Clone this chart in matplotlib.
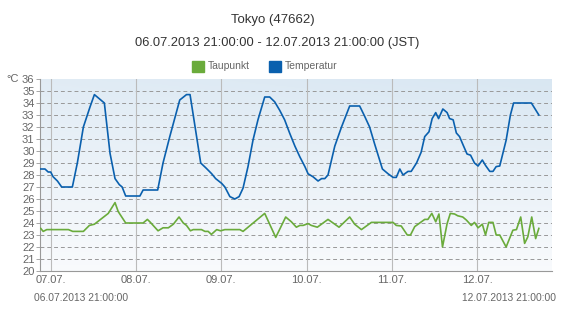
import matplotlib.pyplot as plt
import numpy as np

plt.rcParams['font.family'] = ['Liberation Sans', 'DejaVu Sans']

# hours after 06.07.2013 21:00 JST
temp_h = [0, 1.4, 2.3, 3.0, 3.7, 4.9, 6.1, 9.1, 10.5, 12.2, 14.1, 15.3, 18.1, 19.7, 21.1,
          22.3, 23.1, 24.1, 28.1, 29.0, 33.1, 34.6, 36.5, 39.3, 41.2, 42.2, 45.2, 46.8,
          48.3, 49.4, 51.1, 52.0, 53.4, 54.8, 56.0, 57.1, 58.5, 59.9, 61.3, 63.2, 64.6,
          66.0, 67.4, 68.8, 70.2, 71.7, 73.1, 74.5, 75.4, 76.8, 78.2, 79.2, 80.1, 81.0,
          82.9, 84.8, 87.1, 89.9, 91.3, 92.7, 94.1, 96.3, 97.9, 99.3, 100.2, 101.2, 102.1,
          103.5, 104.4, 105.9, 107.2, 108.2, 109.4, 110.3, 111.3, 112.1, 113.3, 114.5,
          115.2, 116.2, 117.1, 118.0, 119.0, 120.1, 121.1, 122.2, 123.2, 124.4, 125.3,
          126.5, 127.4, 128.3, 129.3, 131.1, 132.3, 133.2, 138.2, 140.3]
temp = [28.5, 28.5, 28.25, 28.25, 27.85, 27.5, 27.0, 27.0, 29.0, 32.0, 33.7, 34.7, 34.0,
        29.8, 27.7, 27.2, 27.0, 26.25, 26.25, 26.75, 26.75, 29.0, 31.2, 34.25, 34.7, 34.7,
        29.0, 28.55, 28.1, 27.7, 27.3, 27.0, 26.2, 26.0, 26.2, 26.9, 28.7, 30.9, 32.6,
        34.5, 34.5, 34.1, 33.4, 32.6, 31.5, 30.4, 29.5, 28.7, 28.1, 27.85, 27.5, 27.7,
        27.7, 28.0, 30.4, 32.0, 33.75, 33.75, 32.9, 32.0, 30.6, 28.5, 28.1, 27.8, 27.8,
        28.5, 28.0, 28.3, 28.3, 29.0, 29.9, 31.2, 31.6, 32.7, 33.2, 32.7, 33.5, 33.2,
        32.7, 32.6, 31.5, 31.2, 30.5, 29.75, 29.65, 29.0, 28.75, 29.25, 28.8, 28.3, 28.3,
        28.7, 28.75, 30.9, 33.0, 34.0, 34.0, 33.0]

dew_h = [0.2, 0.9, 1.9, 8.0, 9.2, 12.2, 13.9, 15.3, 19.2, 21.1, 22.0, 24.1, 29.0, 30.2,
         30.9, 33.2, 34.6, 36.1, 37.5, 39.1, 40.3, 41.2, 42.3, 43.1, 45.4, 46.4, 47.3,
         48.2, 49.7, 50.8, 52.0, 56.2, 57.1, 63.2, 66.3, 69.1, 70.7, 72.1, 73.1, 74.0,
         75.4, 76.3, 78.0, 81.0, 84.1, 87.1, 88.5, 90.4, 93.2, 99.3, 100.2, 101.6, 103.3,
         104.2, 105.4, 108.2, 109.1, 110.2, 111.3, 112.2, 113.2, 114.5, 115.4, 116.6,
         117.5, 118.9, 119.9, 121.3, 122.2, 123.2, 124.4, 125.3, 126.2, 127.4, 128.3,
         129.3, 131.1, 133.0, 134.0, 135.2, 136.3, 137.2, 138.3, 139.4, 140.3]
dew = [23.55, 23.3, 23.45, 23.45, 23.3, 23.3, 23.8, 23.9, 24.8, 25.7, 24.95, 24.0, 24.0,
       24.3, 24.1, 23.35, 23.6, 23.6, 23.9, 24.5, 24.0, 23.8, 23.35, 23.45, 23.45, 23.3,
       23.3, 23.05, 23.45, 23.35, 23.45, 23.45, 23.3, 24.8, 22.8, 24.5, 24.1, 23.65, 23.8,
       23.8, 23.95, 23.8, 23.65, 24.3, 23.65, 24.5, 23.9, 23.45, 24.05, 24.05, 23.8, 23.75,
       23.0, 23.0, 23.7, 24.3, 24.3, 24.8, 24.1, 24.75, 22.0, 23.95, 24.8, 24.75, 24.6,
       24.5, 24.25, 23.8, 24.05, 23.6, 23.9, 23.0, 24.05, 24.05, 23.0, 23.0, 22.0, 23.4,
       23.45, 24.5, 22.3, 22.85, 24.5, 22.7, 23.55]

day_h = [3, 27, 51, 75, 99, 123]
day_labels = ['07.07.', '08.07.', '09.07.', '10.07.', '11.07.', '12.07.']

green = '#6aab3b'
blue = '#0a60ae'
txt = '#666666'

fig = plt.figure(figsize=(5.63, 3.11), dpi=100)
ax = fig.add_axes([40/563, 40/311, 512/563, 192/311])

# background gradient
yy = np.linspace(0, 1, 100)[:, None]
xx = np.linspace(0, 1, 100)[None, :]
t = np.clip(yy * (0.75 + 0.25 * xx), 0, 1)
top = np.array([0.85, 0.905, 0.95])
bot = np.array([0.975, 0.982, 0.99])
img = bot + (top - bot) * t[..., None]
ax.imshow(img, extent=[0, 144, 20, 36], aspect='auto', origin='lower', zorder=0)

for y in range(21, 36):
    ax.axhline(y, color='#999999', lw=0.7, ls=(0, (4, 3)), zorder=1)
for d in day_h:
    ax.axvline(d, color='#bbbbbb', lw=0.8, zorder=1)

ax.plot(dew_h, dew, color=green, lw=1.2, zorder=3)
ax.plot(temp_h, temp, color=blue, lw=1.2, zorder=3)

ax.set_xlim(0, 144)
ax.set_ylim(20, 36)
ax.set_yticks(range(20, 37))
ax.set_xticks(day_h)
ax.set_xticklabels(day_labels)
ax.tick_params(axis='y', labelsize=8, colors=txt, length=3, width=0.6, pad=1, color='#999999')
ax.tick_params(axis='x', labelsize=8, colors=txt, length=0, pad=3)
for s in ['top', 'right']:
    ax.spines[s].set_visible(False)
for s in ['left', 'bottom']:
    ax.spines[s].set_color('#999999')
    ax.spines[s].set_linewidth(0.8)

fig.text(6/563, 1 - 79/311, '°C', fontsize=8, color=txt, va='center', ha='left')
fig.text(273/563, 1 - 20/311, 'Tokyo (47662)', fontsize=9.5, color='#333333', ha='center', va='center')
fig.text(277/563, 1 - 43/311, '06.07.2013 21:00:00 - 12.07.2013 21:00:00 (JST)', fontsize=9.3,
         color='#333333', ha='center', va='center')

# legend
ly = 1 - 66/311
fig.patches.append(plt.Rectangle((192/563, ly - 5.5/311), 12/563, 11/311, color=green,
                                 transform=fig.transFigure, figure=fig))
fig.text(208/563, ly, 'Taupunkt', fontsize=7.5, color=txt, va='center')
fig.patches.append(plt.Rectangle((269/563, ly - 5.5/311), 12/563, 11/311, color=blue,
                                 transform=fig.transFigure, figure=fig))
fig.text(285/563, ly, 'Temperatur', fontsize=7.5, color=txt, va='center')

fig.text(34/563, 1 - 298/311, '06.07.2013 21:00:00', fontsize=7.4, color=txt, va='center')
fig.text(556/563, 1 - 298/311, '12.07.2013 21:00:00', fontsize=7.4, color=txt, va='center', ha='right')

fig.savefig('out.png', dpi=100)
